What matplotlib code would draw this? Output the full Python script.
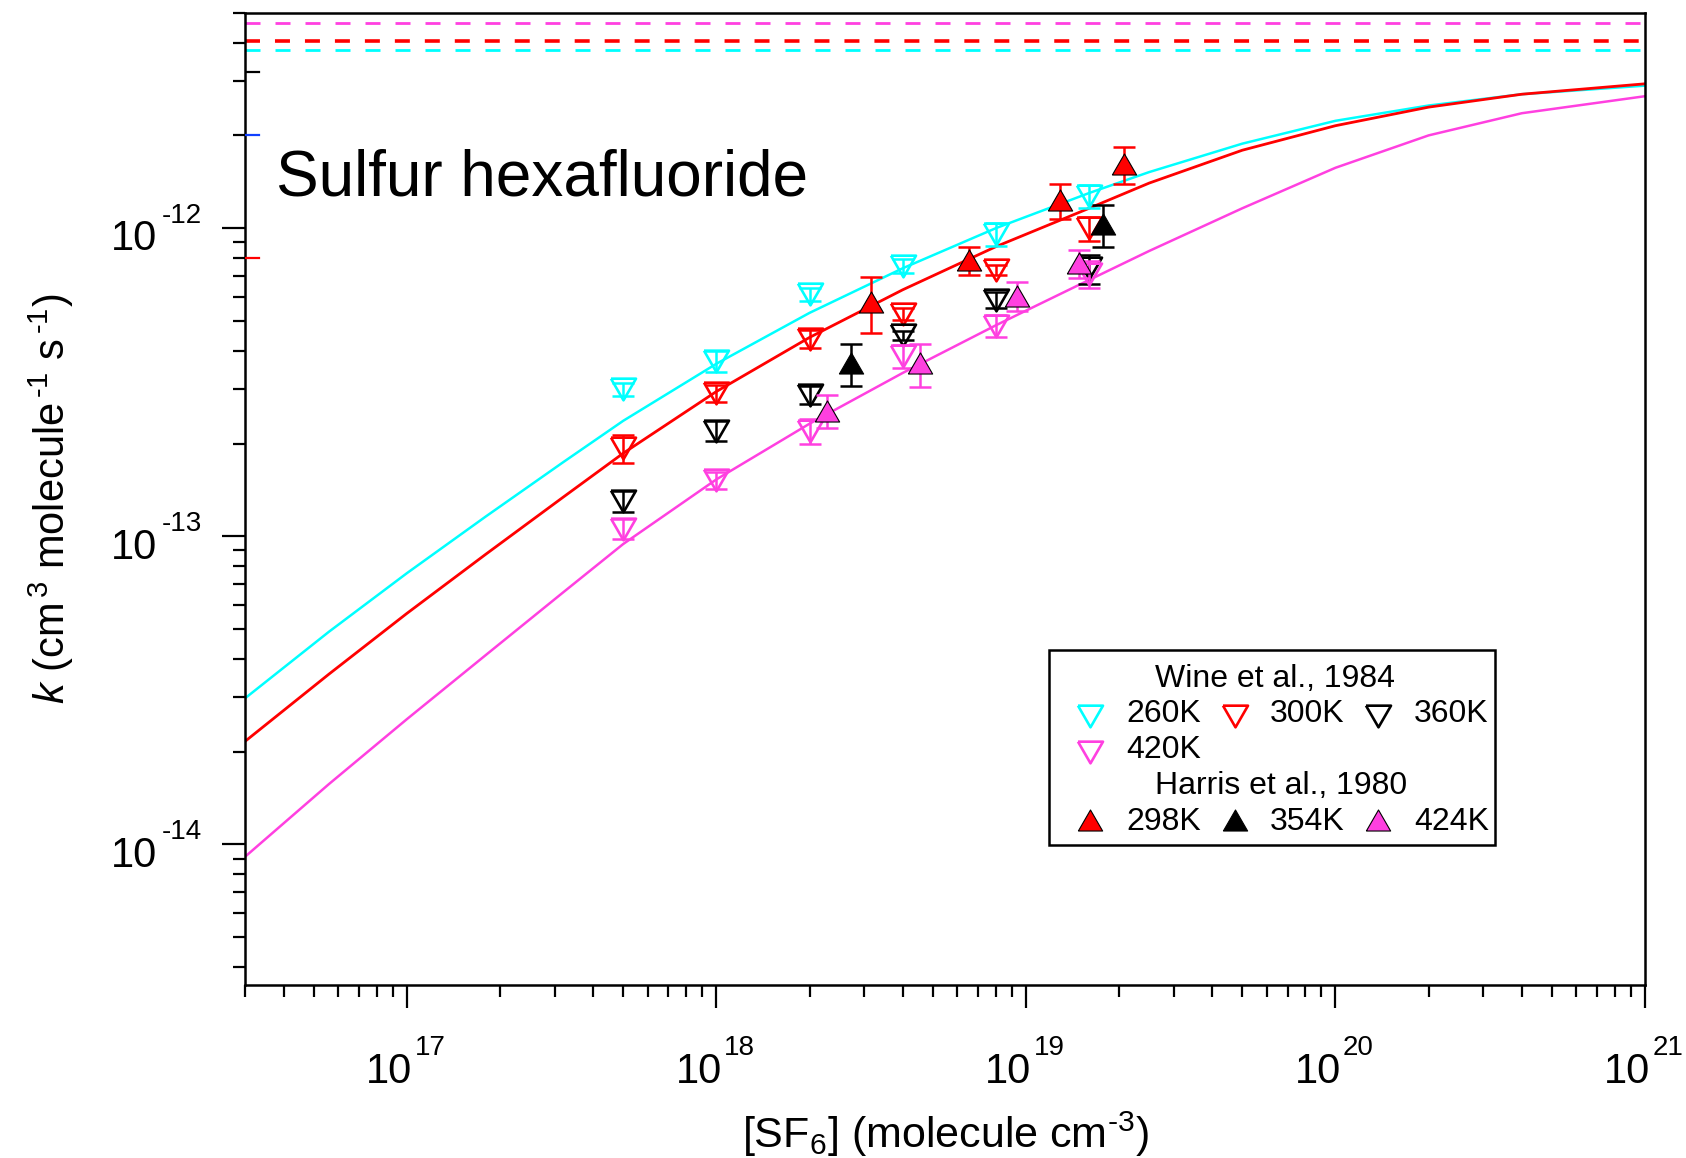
import numpy as np
import matplotlib
matplotlib.use('Agg')
import matplotlib.pyplot as plt
from matplotlib.ticker import LogLocator, NullFormatter
from matplotlib.patches import Rectangle

# fonts (Arial-like look)
plt.rcParams['font.family'] = 'Liberation Sans'
plt.rcParams['mathtext.fontset'] = 'custom'
plt.rcParams['mathtext.rm'] = 'Liberation Sans'
plt.rcParams['mathtext.it'] = 'Liberation Sans:italic'
plt.rcParams['mathtext.bf'] = 'Liberation Sans:bold'

# colours
cyan = '#00FFFF'
red = '#FF0000'
black = '#000000'
pink = '#FF40E0'

# Wine et al., 1984 (open down triangles)
wine_x = [5e17, 1e18, 2e18, 4e18, 8e18, 1.6e19]
wine_260 = [3.0e-13, 3.7e-13, 6.1e-13, 7.55e-13, 9.56e-13, 1.27e-12]
wine_260_err = [0.14e-13, 0.28e-13, 0.28e-13, 0.4e-13, 0.8e-13, 0.11e-12]
wine_300 = [1.93e-13, 2.91e-13, 4.38e-13, 5.27e-13, 7.33e-13, 1.0e-12]
wine_300_err = [0.2e-13, 0.19e-13, 0.3e-13, 0.23e-13, 0.27e-13, 0.09e-12]
wine_360 = [1.3e-13, 2.2e-13, 2.88e-13, 4.5e-13, 5.85e-13, 7.4e-13]
wine_360_err = [0.1e-13, 0.16e-13, 0.2e-13, 0.15e-13, 0.35e-13, 0.8e-13]
wine_420 = [1.06e-13, 1.52e-13, 2.2e-13, 3.85e-13, 4.83e-13, 7.1e-13]
wine_420_err = [0.08e-13, 0.1e-13, 0.2e-13, 0.33e-13, 0.4e-13, 0.7e-13]

# Harris et al., 1980 (filled up triangles)
harris_298_x = [3.16e18, 6.53e18, 1.29e19, 2.07e19]
harris_298 = [5.75e-13, 7.87e-13, 1.23e-12, 1.61e-12]
harris_298_err = [1.18e-13, 0.8e-13, 0.16e-12, 0.22e-12]
harris_354_x = [2.72e18, 1.78e19]
harris_354 = [3.64e-13, 1.03e-12]
harris_354_err = [0.56e-13, 0.16e-12]
harris_424_x = [2.28e18, 4.56e18, 9.33e18, 1.48e19]
harris_424 = [2.56e-13, 3.64e-13, 6.04e-13, 7.7e-13]
harris_424_err = [0.31e-13, 0.58e-13, 0.64e-13, 0.8e-13]

# fall-off curves
curve_x = [3e16, 5.6e16, 1e17, 1.8e17, 3.2e17, 5e17, 1e18, 2e18, 4e18, 8e18,
           1.6e19, 2.5e19, 5e19, 1e20, 2e20, 4e20, 1e21]
curve_260 = [2.98e-14, 4.90e-14, 7.59e-14, 1.16e-13, 1.74e-13, 2.37e-13, 3.63e-13,
             5.31e-13, 7.41e-13, 1.0e-12, 1.30e-12, 1.52e-12, 1.88e-12, 2.23e-12,
             2.50e-12, 2.72e-12, 2.90e-12]
curve_300 = [2.16e-14, 3.57e-14, 5.62e-14, 8.75e-14, 1.34e-13, 1.86e-13, 2.95e-13,
             4.42e-13, 6.31e-13, 8.71e-13, 1.16e-12, 1.40e-12, 1.79e-12, 2.15e-12,
             2.47e-12, 2.72e-12, 2.94e-12]
curve_420 = [9.12e-15, 1.57e-14, 2.55e-14, 4.12e-14, 6.58e-14, 9.44e-14, 1.53e-13,
             2.32e-13, 3.39e-13, 4.84e-13, 6.79e-13, 8.43e-13, 1.16e-12, 1.57e-12,
             2.0e-12, 2.36e-12, 2.68e-12]

# high pressure limits (dashed)
kinf_260 = 3.78e-12
kinf_300 = 4.04e-12
kinf_420 = 4.64e-12

# stray coloured ticks on the left axis
side_ticks = [3.2e-12, 2e-12, 8e-13]
side_tick_colors = [black, '#1040FF', red]

# tick labels
x_decades = [17, 18, 19, 20, 21]
y_decades = [-14, -13, -12]

down = [(-1, 0.866), (1, 0.866), (0, -0.866), (-1, 0.866)]
up = [(-1, -0.866), (1, -0.866), (0, 0.866), (-1, -0.866)]

fig = plt.figure(figsize=(16.86, 11.58), dpi=100)
ax = fig.add_axes([0.1453, 0.1494, 0.8304, 0.8396])
ax.set_xscale('log')
ax.set_yscale('log')
ax.set_xlim(3e16, 1e21)
ax.set_ylim(3.5e-15, 5e-12)

# dashed k_inf lines
ax.axhline(kinf_420, color=pink, lw=2.0, ls=(0, (5.4, 5.4)))
ax.axhline(kinf_300, color=red, lw=2.6, ls=(0, (4.15, 4.15)))
ax.axhline(kinf_260, color=cyan, lw=2.0, ls=(0, (5.4, 5.4)))

# curves
ax.plot(curve_x, curve_260, color=cyan, lw=1.8)
ax.plot(curve_x, curve_300, color=red, lw=2.0)
ax.plot(curve_x, curve_420, color=pink, lw=1.8)

# Wine data
for y, e, c in [(wine_260, wine_260_err, cyan), (wine_300, wine_300_err, red),
                (wine_360, wine_360_err, black), (wine_420, wine_420_err, pink)]:
    ax.errorbar(wine_x, y, yerr=e, fmt='none', ecolor=c, elinewidth=1.8,
                capsize=8, capthick=1.8, zorder=3)
    ax.plot(wine_x, y, ls='none', marker=down, ms=18, mfc='none', mec=c,
            mew=1.9, zorder=3)

# Harris data
for x, y, e, c in [(harris_298_x, harris_298, harris_298_err, red),
                   (harris_354_x, harris_354, harris_354_err, black),
                   (harris_424_x, harris_424, harris_424_err, pink)]:
    ax.errorbar(x, y, yerr=e, fmt='none', ecolor=c, elinewidth=1.8,
                capsize=8, capthick=1.8, zorder=4)
    ax.plot(x, y, ls='none', marker=up, ms=17.5, mfc=c, mec='black',
            mew=0.8, zorder=4)

for v, c in zip(side_ticks, side_tick_colors):
    ax.plot([0, 0.01], [v, v], transform=ax.get_yaxis_transform(), color=c,
            lw=1.6, zorder=5)

# axes styling
for s in ax.spines.values():
    s.set_linewidth(1.8)
ax.xaxis.set_major_locator(LogLocator(base=10, numticks=20))
ax.xaxis.set_minor_locator(LogLocator(base=10, subs=range(2, 10), numticks=50))
ax.yaxis.set_major_locator(LogLocator(base=10, numticks=20))
ax.yaxis.set_minor_locator(LogLocator(base=10, subs=range(2, 10), numticks=50))
for a in (ax.xaxis, ax.yaxis):
    a.set_major_formatter(NullFormatter())
    a.set_minor_formatter(NullFormatter())
ax.tick_params(which='major', length=16.5, width=1.6, direction='out')
ax.tick_params(which='minor', length=8.6, width=1.6, direction='out')

# Igor-style "10" + raised exponent tick labels
for p in x_decades:
    ax.annotate('10', xy=(10.0 ** p, 0), xycoords=('data', 'axes fraction'),
                xytext=(4.0, -70.5), textcoords='offset points', fontsize=30,
                ha='right', va='baseline', annotation_clip=False)
    ax.annotate('%d' % p, xy=(10.0 ** p, 0), xycoords=('data', 'axes fraction'),
                xytext=(5.5, -50.5), textcoords='offset points', fontsize=20,
                ha='left', va='baseline', annotation_clip=False)
for p in y_decades:
    ax.annotate('10', xy=(0, 10.0 ** p), xycoords=('axes fraction', 'data'),
                xytext=(-63.5, -16.0), textcoords='offset points', fontsize=30,
                ha='right', va='baseline', annotation_clip=False)
    ax.annotate('-%d' % (-p), xy=(0, 10.0 ** p), xycoords=('axes fraction', 'data'),
                xytext=(-31.0, 4.0), textcoords='offset points', fontsize=20,
                ha='right', va='baseline', annotation_clip=False)

ax.set_xlabel(r'[SF$_{6}$] (molecule cm$^{\text{-}3}$)', fontsize=31)
ax.xaxis.set_label_coords(0.5, -0.128)
ax.set_ylabel(r'$\mathit{k}$ (cm$^{\,3}$ molecule$^{\,\text{-}1}$ s$^{\,\text{-}1}$)',
              fontsize=30)
ax.yaxis.set_label_coords(-0.121, 0.5)

ax.text(0.022, 0.812, 'Sulfur hexafluoride', transform=ax.transAxes,
        fontsize=46, va='baseline', ha='left')

# legend box drawn by hand
ax.add_patch(Rectangle((0.5743, 0.144), 0.3186, 0.2005, transform=ax.transAxes,
                       facecolor='white', edgecolor='black', lw=1.8, zorder=10))
lfs = 23
ax.text(0.7357, 0.3065, 'Wine et al., 1984', transform=ax.transAxes,
        fontsize=lfs, ha='center', va='baseline', zorder=11)
ax.text(0.74, 0.1964, 'Harris et al., 1980', transform=ax.transAxes,
        fontsize=lfs, ha='center', va='baseline', zorder=11)
col_mx = [0.6036, 0.7071, 0.8093]
col_tx = [0.6293, 0.7321, 0.835]
wine_entries = [('260K', cyan, 0, 0.2767, 0.2705), ('300K', red, 1, 0.2767, 0.2705),
                ('360K', black, 2, 0.2767, 0.2705), ('420K', pink, 0, 0.240, 0.2335)]
for lab, c, col, my, ty in wine_entries:
    ax.plot([col_mx[col]], [my], transform=ax.transAxes, ls='none', marker=down,
            ms=18, mfc='none', mec=c, mew=1.9, zorder=11, clip_on=False)
    ax.text(col_tx[col], ty, lab, transform=ax.transAxes, fontsize=lfs,
            va='baseline', zorder=11)
harris_entries = [('298K', red), ('354K', black), ('424K', pink)]
for col, (lab, c) in enumerate(harris_entries):
    ax.plot([col_mx[col]], [0.170], transform=ax.transAxes, ls='none', marker=up,
            ms=17.5, mfc=c, mec='black', mew=0.8, zorder=11, clip_on=False)
    ax.text(col_tx[col], 0.1594, lab, transform=ax.transAxes, fontsize=lfs,
            va='baseline', zorder=11)

fig.savefig('out.png', dpi=100)
